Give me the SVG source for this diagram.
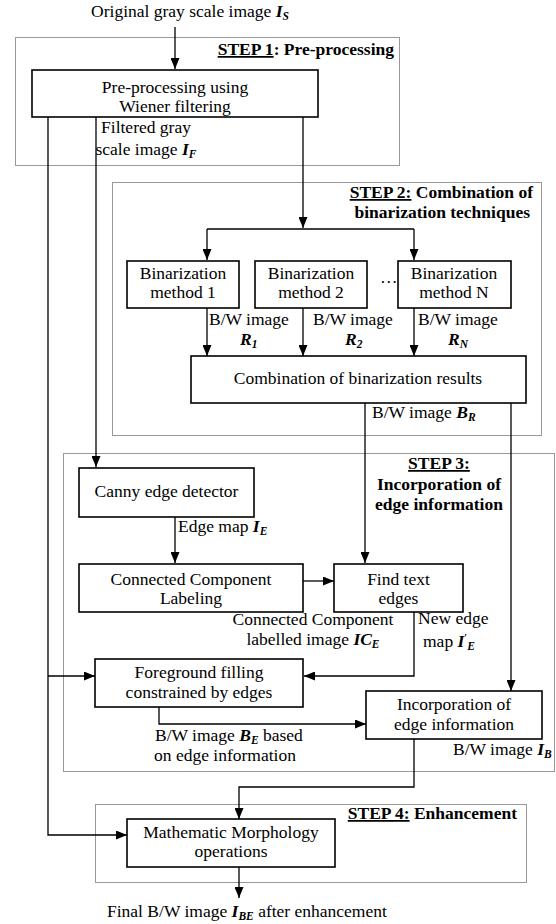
<svg xmlns="http://www.w3.org/2000/svg" width="556" height="924" viewBox="0 0 556 924">
<defs>
<marker id="ah" markerUnits="userSpaceOnUse" markerWidth="11" markerHeight="9" refX="11" refY="4.5" orient="auto">
<path d="M0,0 L11,4.5 L0,9 z" fill="#000"/>
</marker>
<style>
text{font-family:"Liberation Serif","Times New Roman",serif;font-size:17.5px;fill:#000}
.c{text-anchor:middle}
.e{text-anchor:end}
.b{font-weight:bold}
.m{font-weight:bold;font-style:italic}
.s{font-size:11.5px;font-weight:bold;font-style:italic}
.p{font-size:10px;font-weight:bold}
.u{text-decoration:underline}
.box{fill:#fff;stroke:#000;stroke-width:1.6}
.step{fill:none;stroke:#333;stroke-width:1;stroke-dasharray:1,1}
.ln{fill:none;stroke:#000;stroke-width:1.3}
.ar{fill:none;stroke:#000;stroke-width:1.3;marker-end:url(#ah)}
</style>
</defs>
<rect width="556" height="924" fill="#fff"/>

<g id="steps">
<rect class="step" x="15.5" y="37.5" width="384" height="128"/>
<rect class="step" x="112.5" y="182.5" width="429" height="253"/>
<rect class="step" x="63.5" y="453.5" width="491" height="318"/>
<rect class="step" x="95.5" y="804.5" width="431" height="78"/>
<text class="e b" x="394" y="55"><tspan class="u">STEP 1</tspan>: Pre-processing</text>
<text class="e b" x="533" y="198"><tspan class="u">STEP 2:</tspan> Combination of</text>
<text class="e b" x="530" y="218">binarization techniques</text>
<text class="c b" x="439" y="469"><tspan class="u">STEP 3:</tspan></text>
<text class="c b" x="439" y="490">Incorporation of</text>
<text class="c b" x="439" y="510">edge information</text>
<text class="e b" x="517" y="819"><tspan class="u">STEP 4:</tspan> Enhancement</text>
</g>

<g id="connectors">
<path class="ar" d="M175,27 V69"/>
<path class="ar" d="M48,117 V835 H127"/>
<path class="ar" d="M48,676 H95"/>
<path class="ar" d="M96,117 V467"/>
<path class="ar" d="M303,117 V228"/>
<path class="ln" d="M207,229 H414"/>
<path class="ar" d="M207,229 V260"/>
<path class="ar" d="M414,229 V260"/>
<path class="ar" d="M207,308 V356"/>
<path class="ar" d="M303,308 V356"/>
<path class="ar" d="M414,308 V356"/>
<path class="ar" d="M365,403 V563"/>
<path class="ar" d="M511,403 V691"/>
<path class="ar" d="M175,517 V563"/>
<path class="ar" d="M303,581 H334"/>
<path class="ar" d="M414,612 V676 H304"/>
<path class="ar" d="M159,707 V724 H366"/>
<path class="ar" d="M414,739 V787 H239 V819"/>
<path class="ar" d="M239,867 V898"/>
</g>

<g id="n_pre">
<rect class="box" x="32" y="70" width="286" height="47"/>
<text class="c" x="175" y="93">Pre-processing using</text>
<text class="c" x="175" y="112">Wiener filtering</text>
</g>
<g id="n_bin1">
<rect class="box" x="127" y="261" width="112" height="47"/>
<text class="c" x="183" y="279">Binarization</text>
<text class="c" x="183" y="298">method 1</text>
</g>
<g id="n_bin2">
<rect class="box" x="255" y="261" width="112" height="47"/>
<text class="c" x="311" y="279">Binarization</text>
<text class="c" x="311" y="298">method 2</text>
</g>
<g id="n_binN">
<rect class="box" x="398" y="261" width="113" height="47"/>
<text class="c" x="454" y="279">Binarization</text>
<text class="c" x="454" y="298">method N</text>
</g>
<g id="n_comb">
<rect class="box" x="191" y="356" width="335" height="47"/>
<text class="c" x="358" y="384">Combination of binarization results</text>
</g>
<g id="n_canny">
<rect class="box" x="79" y="468" width="175" height="49"/>
<text class="c" x="166.5" y="497">Canny edge detector</text>
</g>
<g id="n_ccl">
<rect class="box" x="79" y="564" width="224" height="48"/>
<text class="c" x="191" y="585">Connected Component</text>
<text class="c" x="191" y="604">Labeling</text>
</g>
<g id="n_find">
<rect class="box" x="334" y="564" width="129" height="48"/>
<text class="c" x="398.5" y="585">Find text</text>
<text class="c" x="398.5" y="604">edges</text>
</g>
<g id="n_fg">
<rect class="box" x="95" y="659" width="208" height="48"/>
<text class="c" x="199" y="678">Foreground filling</text>
<text class="c" x="199" y="698">constrained by edges</text>
</g>
<g id="n_inc">
<rect class="box" x="366" y="691" width="176" height="48"/>
<text class="c" x="454" y="710">Incorporation of</text>
<text class="c" x="454" y="730">edge information</text>
</g>
<g id="n_mm">
<rect class="box" x="127" y="819" width="208" height="48"/>
<text class="c" x="231" y="838">Mathematic Morphology</text>
<text class="c" x="231" y="857">operations</text>
</g>

<g id="labels">
<text class="c" x="190" y="17">Original gray scale image <tspan class="m">I</tspan><tspan class="s" dy="3">S</tspan></text>
<text class="c" x="146" y="133">Filtered gray</text>
<text class="c" x="146" y="155">scale image <tspan class="m">I</tspan><tspan class="s" dy="3">F</tspan></text>
<text x="380" y="283" fill="#555">…</text>
<text x="209" y="325">B/W image</text>
<text x="240" y="345"><tspan class="m">R</tspan><tspan class="s" dy="3">1</tspan></text>
<text x="313" y="325">B/W image</text>
<text x="345" y="345"><tspan class="m">R</tspan><tspan class="s" dy="3">2</tspan></text>
<text x="418" y="325">B/W image</text>
<text x="448" y="345"><tspan class="m">R</tspan><tspan class="s" dy="3">N</tspan></text>
<text x="372" y="418">B/W image  <tspan class="m">B</tspan><tspan class="s" dy="3">R</tspan></text>
<text x="178" y="532">Edge map <tspan class="m">I</tspan><tspan class="s" dy="3">E</tspan></text>
<text class="c" x="313" y="625">Connected Component</text>
<text class="c" x="313" y="645">labelled image <tspan class="m">IC</tspan><tspan class="s" dy="3">E</tspan></text>
<text x="418" y="624">New edge</text>
<text x="423" y="647">map  <tspan class="m">I</tspan><tspan class="p" dy="-6">′</tspan><tspan class="s" dy="9">E</tspan></text>
<text x="155" y="741">B/W image  <tspan class="m">B</tspan><tspan class="s" dy="3">E</tspan><tspan dy="-3"> based</tspan></text>
<text x="154" y="761">on edge information</text>
<text x="453" y="755">B/W image <tspan class="m">I</tspan><tspan class="s" dy="3">B</tspan></text>
<text x="107" y="917">Final B/W image <tspan class="m">I</tspan><tspan class="s" dy="3">BE</tspan><tspan dy="-3"> after enhancement</tspan></text>
</g>
</svg>
